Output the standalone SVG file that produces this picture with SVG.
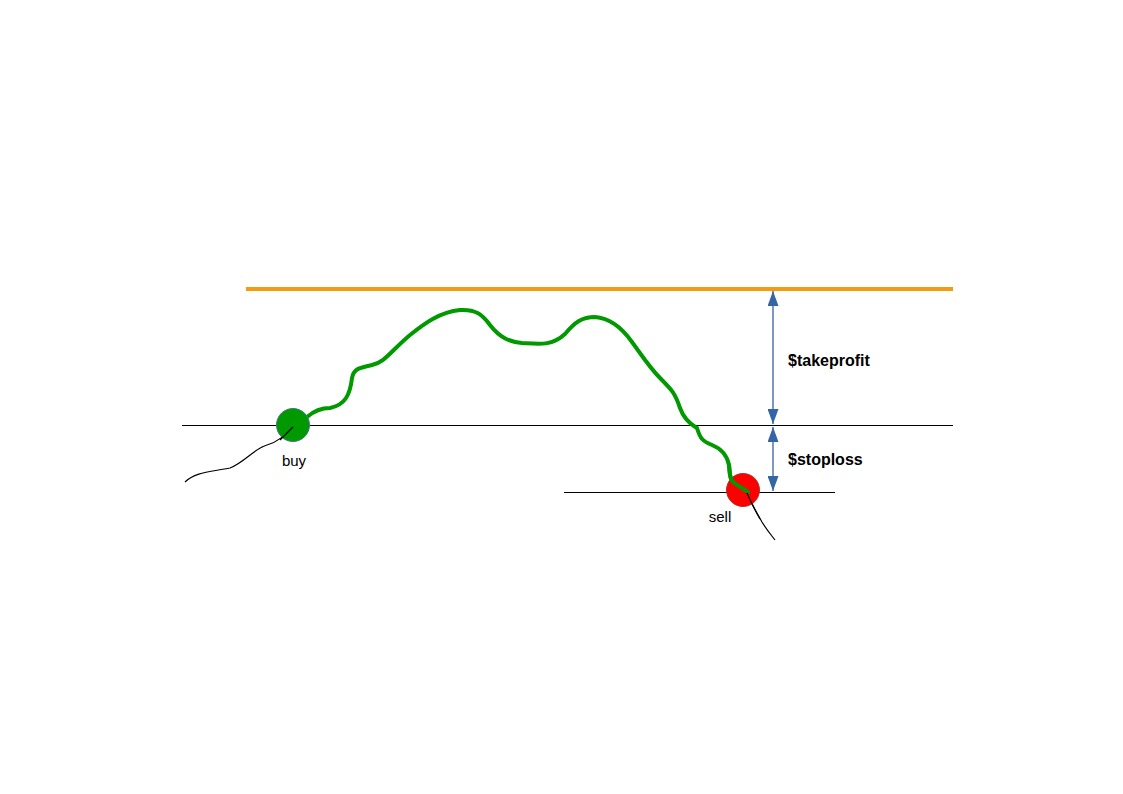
<svg xmlns="http://www.w3.org/2000/svg" width="1123" height="794" viewBox="0 0 1123 794">
<defs>
<style>
.txt{font-family:"Liberation Sans",Arial,sans-serif;font-size:15px;fill:#000}
.bold{font-weight:bold;font-size:16px}
.thin{stroke:#000;stroke-width:1.2;fill:none}
.arr{stroke:#3465a4;stroke-width:1.3;fill:none}
</style>
<marker id="ah" viewBox="0 0 15 11" refX="15" refY="5.5" markerWidth="15" markerHeight="11" markerUnits="userSpaceOnUse" orient="auto-start-reverse">
<path d="M0,0 L15,5.5 L0,11 z" fill="#3465a4"/>
</marker>
</defs>
<rect width="1123" height="794" fill="#fff"/>
<g id="levels">
<line x1="246" y1="289" x2="953" y2="289" stroke="#f39c12" stroke-width="4"/>
<line x1="182" y1="425.5" x2="953" y2="425.5" stroke="#000" stroke-width="1.2"/>
<line x1="564" y1="492.5" x2="835" y2="492.5" stroke="#000" stroke-width="1.2"/>
</g>
<g id="connectors">
<path class="thin" d="M185,482 C195,472 210,472 230,468 C245,462 255,448 267,445 C278,442 285,435 293,427"/>
<path class="thin" d="M747,493 C752,505 758,515 762,522 C767,530 771,535 775,540"/>
<path d="M307,417 C315,410 322,408 330,408 C345,405 350,395 352,378 C354,368 360,368 372,365 C385,362 390,352 410,335 C425,323 440,312 460,310 C475,309 482,314 490,325 C500,338 510,342 522,343 C540,344 552,346 565,334 C575,322 582,317 595,317 C610,318 622,328 632,342 C645,360 650,368 660,378 C672,390 675,393 680,408 C685,422 694,426 697,428 C700,438 702,441 712,445 C722,449 727,455 729,465 C730,472 729,478 733,482 C738,486 744,489 748,492" fill="none" stroke="#009900" stroke-width="4" stroke-linecap="round"/>
<line class="arr" x1="773" y1="291" x2="773" y2="424" marker-start="url(#ah)" marker-end="url(#ah)"/>
<line class="arr" x1="773" y1="427" x2="773" y2="491" marker-start="url(#ah)" marker-end="url(#ah)"/>
</g>
<g id="buy">
<circle cx="293" cy="425" r="16.5" fill="#009900" stroke="#3d7a7a" stroke-width="1"/>
<path class="thin" d="M280,440 C285,435 289,431 293,427"/>
<text class="txt" x="294" y="466" text-anchor="middle">buy</text>
</g>
<g id="sell">
<circle cx="743" cy="490" r="16.5" fill="#ff0000" stroke="#a33" stroke-width="1"/>
<path d="M729,465 C730,472 729,478 733,482 C738,486 744,489 748,492" fill="none" stroke="#009900" stroke-width="4" stroke-linecap="round"/>
<path class="thin" d="M747,493 C752,505 756,512 760,519"/>
<text class="txt" x="720" y="522" text-anchor="middle">sell</text>
</g>
<g id="labels">
<text class="txt bold" x="788" y="366">$takeprofit</text>
<text class="txt bold" x="788" y="465">$stoploss</text>
</g>
</svg>
